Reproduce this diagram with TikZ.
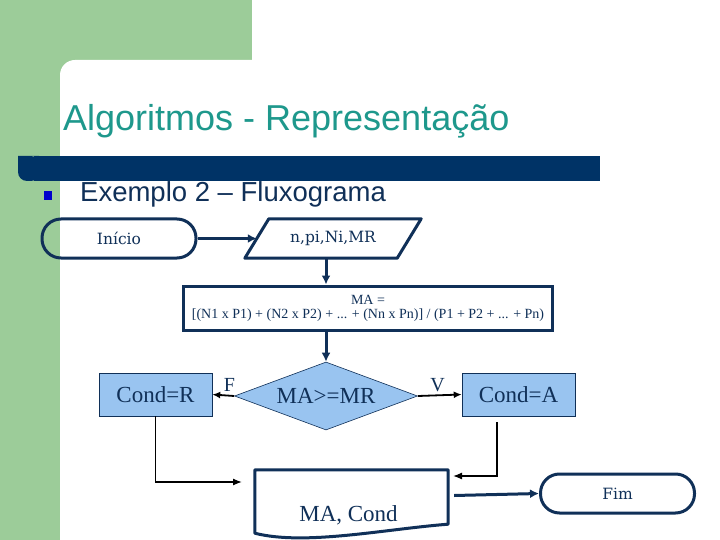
\documentclass[tikz,border=0pt]{standalone}
\usepackage{fontspec}
\setmainfont{Liberation Serif}
\setsansfont{Liberation Sans}
\newfontfamily\termfont{DejaVu Serif}
\usetikzlibrary{arrows.meta, positioning, calc, shapes.geometric}
\definecolor{slidegreen}{RGB}{156,204,153}
\definecolor{titleteal}{RGB}{30,152,140}
\definecolor{barblue}{RGB}{0,51,102}
\definecolor{navy}{RGB}{16,48,88}
\definecolor{boxblue}{RGB}{153,196,240}
\definecolor{bulletblue}{RGB}{0,0,204}

\begin{document}
\begin{tikzpicture}[x=1pt, y=-1pt,
  term/.style={draw=navy, line width=3pt, rounded corners=19pt, minimum width=154pt,
    minimum height=39pt, text=navy, font=\termfont\fontsize{15.5}{18}\selectfont},
  iobox/.style={minimum width=152pt, minimum height=39pt, text=navy,
    font=\termfont\fontsize{15.5}{18}\selectfont},
  procbox/.style={draw=navy, line width=3pt, minimum width=369pt, minimum height=44pt,
    align=center, text=navy, font=\fontsize{14}{14}\selectfont},
  condbox/.style={draw=navy, line width=0.6pt, fill=boxblue, minimum width=113pt,
    minimum height=43pt, text=navy, font=\fontsize{23}{26}\selectfont},
  decis/.style={diamond, aspect=2.7, draw=navy, line width=0.6pt, fill=boxblue,
    inner sep=0pt, minimum width=183pt, minimum height=68pt, text=navy,
    font=\fontsize{23}{26}\selectfont},
  outline/.style={draw=navy, line width=3pt, line join=round},
  bigarrow/.style={draw=navy, line width=3pt, -{Latex[length=9pt,width=9pt]}},
  smallarrow/.style={draw=black, line width=1.8pt, -{Latex[length=8pt,width=7pt]}},
  thinarrow/.style={draw=black, line width=1.3pt, -{Latex[length=9pt,width=7pt]}},
  lbl/.style={text=navy, font=\fontsize{20}{22}\selectfont}]
  % ============ slide background ============
  \useasboundingbox (0,0) rectangle (720,540);
  \clip (0,0) rectangle (720,540);
  \fill[white] (0,0) rectangle (720,540);
  \fill[slidegreen] (0,0) rectangle (252,80);
  \fill[slidegreen] (0,0) rectangle (60,540);
  \fill[white, rounded corners=15pt] (60,60) rectangle (760,580);
  \node[anchor=base west, inner sep=0pt, text=titleteal, font=\sffamily\fontsize{36}{40}\selectfont]
    (titulo) at (63,131) {Algoritmos - Representação};
  \fill[barblue, rounded corners=9pt] (18,156) -- (30,156) -- (40,156) -- (40,181) -- (18,181) [sharp corners] -- cycle;
  \fill[barblue] (34,156) rectangle (600,181);
  \fill[bulletblue] (44,191) rectangle (52,200);
  \node[anchor=base west, inner sep=0pt, text=navy, font=\sffamily\fontsize{27.5}{30}\selectfont]
    (sub) at (80,202) {Exemplo 2 -- Fluxograma};
  % ============ flowchart ============
  \node[term] (ini) at (119,238.5) {Início};
  \node[iobox] (dados) at (333,238.5) {n,pi,Ni,MR};
  \draw[outline] ($(dados.south west)+(-12,0)$) -- ($(dados.north west)+(12,0)$)
    -- ($(dados.north east)+(12,0)$) -- ($(dados.south east)+(-12,0)$) -- cycle;
  \node[procbox] (ma) at (368,308) {MA =\\{}[(N1 x P1) + (N2 x P2) + ... + (Nn x Pn)] / (P1 + P2 + ... + Pn)};
  \node[decis] (dec) at (326,396) {MA>=MR};
  \node[condbox] (condr) at (155.5,394.5) {Cond=R};
  \node[condbox] (conda) at (518.5,394.5) {Cond=A};
  \node[minimum width=193pt, minimum height=60pt] (saida) at (351.5,500) {};
  \draw[outline] (saida.south west) -- (saida.north west) -- (saida.north east)
    -- ($(saida.south east)+(0,-6)$) .. controls (385,529) and (305,546) .. ($(saida.south west)+(0,3)$) -- cycle;
  \node[text=navy, font=\fontsize{23}{26}\selectfont] (saidatxt) at ($(saida.center)+(-3,15)$) {MA, Cond};
  \node[term] (fim) at (617.5,493.5) {Fim};
  % ============ connectors ============
  \coordinate (entR) at (242,482);
  \coordinate (saiA) at (497,422);
  \coordinate (entA) at (453,476);
  \draw[bigarrow] (ini.east) -- (dados.west);
  \draw[bigarrow] (dec.north |- dados.south) -- (dec.north |- ma.north);
  \draw[bigarrow] (dec.north |- ma.south) -- (dec.north);
  \draw[smallarrow] (dec.west) -- (condr.east) node[lbl, pos=0.22, above, inner sep=3pt] {F};
  \draw[smallarrow] (dec.east) -- (conda.west) node[lbl, pos=0.45, above, inner sep=3pt] {V};
  \draw[thinarrow] (condr.south) |- (entR);
  \draw[thinarrow] (saiA) |- (entA);
  \draw[bigarrow] ($(saida.east |- fim.west)+(6,2)$) -- (fim.west);
\end{tikzpicture}
\end{document}
